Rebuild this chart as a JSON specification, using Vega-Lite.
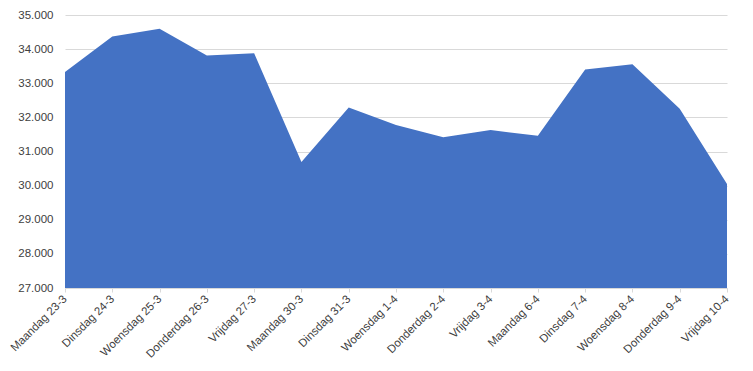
{
  "$schema": "https://vega.github.io/schema/vega-lite/v6.json",
  "width": 662,
  "height": 273,
  "autosize": {"type": "none"},
  "padding": {"left": 65, "top": 15, "right": 26, "bottom": 83},
  "background": "white",
  "config": {
    "view": {"stroke": null},
    "locale": {"number": {"decimal": ",", "thousands": ".", "grouping": [3], "currency": ["€", ""]}},
    "font": "Liberation Sans"
  },
  "data": {
    "values": [
      {"dag": "Maandag 23-3", "waarde": 33330},
      {"dag": "Dinsdag 24-3", "waarde": 34370},
      {"dag": "Woensdag 25-3", "waarde": 34600},
      {"dag": "Donderdag 26-3", "waarde": 33810},
      {"dag": "Vrijdag 27-3", "waarde": 33880},
      {"dag": "Maandag 30-3", "waarde": 30690},
      {"dag": "Dinsdag 31-3", "waarde": 32290},
      {"dag": "Woensdag 1-4", "waarde": 31780},
      {"dag": "Donderdag 2-4", "waarde": 31420},
      {"dag": "Vrijdag 3-4", "waarde": 31630},
      {"dag": "Maandag 6-4", "waarde": 31460},
      {"dag": "Dinsdag 7-4", "waarde": 33400},
      {"dag": "Woensdag 8-4", "waarde": 33560},
      {"dag": "Donderdag 9-4", "waarde": 32250},
      {"dag": "Vrijdag 10-4", "waarde": 30050}
    ]
  },
  "mark": {"type": "area", "color": "#4472C4", "opacity": 1, "clip": true},
  "encoding": {
    "x": {
      "field": "dag",
      "type": "ordinal",
      "sort": null,
      "scale": {"type": "point", "padding": 0},
      "axis": {
        "title": null,
        "labelAngle": -45,
        "labelAlign": "right",
        "labelBaseline": "middle",
        "labelFontSize": 11.5,
        "labelColor": "#404040",
        "labelPadding": 5,
        "domainColor": "#D9D9D9",
        "tickColor": "#D9D9D9",
        "tickSize": 4,
        "grid": false,
        "zindex": 1
      }
    },
    "y": {
      "field": "waarde",
      "type": "quantitative",
      "scale": {"domain": [27000, 35000], "nice": false, "zero": false},
      "axis": {
        "title": null,
        "values": [27000, 28000, 29000, 30000, 31000, 32000, 33000, 34000, 35000],
        "format": ",.0f",
        "labelFontSize": 11.5,
        "labelColor": "#404040",
        "labelPadding": 12,
        "domain": false,
        "ticks": false,
        "grid": true,
        "gridColor": "#D9D9D9",
        "gridWidth": 1
      }
    }
  }
}
